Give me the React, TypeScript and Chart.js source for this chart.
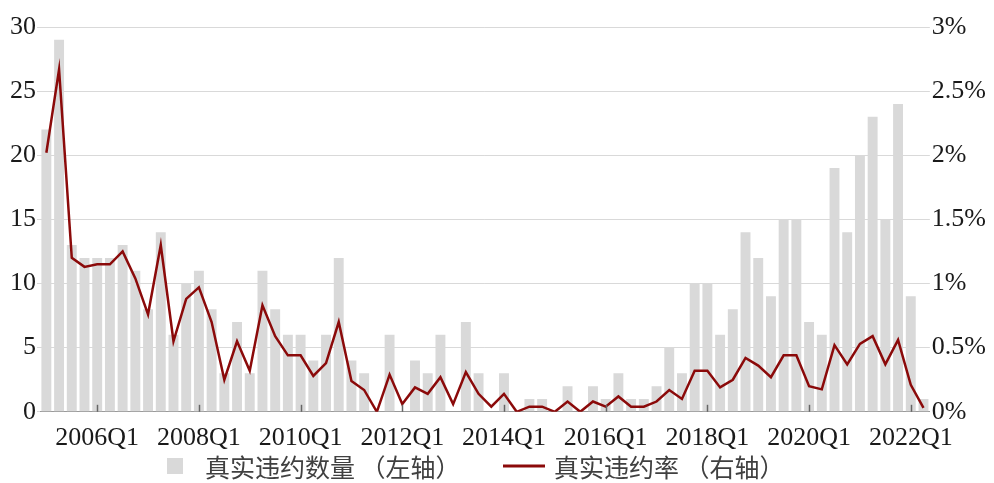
import React, { useEffect, useRef } from "react";
import { Chart, registerables } from "chart.js";

Chart.register(...registerables);

// Quarterly categories 2005Q1 .. 2022Q2
const years = [2005, 2006, 2007, 2008, 2009, 2010, 2011, 2012, 2013, 2014, 2015, 2016, 2017, 2018, 2019, 2020, 2021, 2022];
const quarters: string[] = [];
years.forEach((y) => {
  ["Q1", "Q2", "Q3", "Q4"].forEach((q) => {
    if (y === 2022 && (q === "Q3" || q === "Q4")) return;
    quarters.push(`${y}${q}`);
  });
});

const labeledTicks = ["2006Q1", "2008Q1", "2010Q1", "2012Q1", "2014Q1", "2016Q1", "2018Q1", "2020Q1", "2022Q1"];

const seriesNames = ["真实违约数量 （左轴）", "真实违约率 （右轴）"];

// 真实违约数量 (left axis)
const defaultCount = [
  22, 29, 13, 12, 12, 12, 13, 11, 8, 14,
  6, 10, 11, 8, 3, 7, 3, 11, 8, 6,
  6, 4, 6, 12, 4, 3, 0, 6, 0, 4,
  3, 6, 0, 7, 3, 0, 3, 0, 1, 1,
  0, 2, 0, 2, 1, 3, 1, 1, 2, 5,
  3, 10, 10, 6, 8, 14, 12, 9, 15, 15,
  7, 6, 19, 14, 20, 23, 15, 24, 9, 1,
];

// 真实违约率 % (right axis)
const defaultRate = [
  2.02, 2.67, 1.2, 1.13, 1.15, 1.15, 1.25, 1.04, 0.76, 1.3,
  0.55, 0.88, 0.97, 0.7, 0.25, 0.55, 0.32, 0.83, 0.59, 0.44,
  0.44, 0.28, 0.38, 0.7, 0.24, 0.17, 0.0, 0.29, 0.06, 0.19,
  0.14, 0.27, 0.06, 0.31, 0.14, 0.04, 0.14, 0.0, 0.04, 0.04,
  0.0, 0.08, 0.0, 0.08, 0.04, 0.12, 0.04, 0.04, 0.08, 0.17,
  0.1, 0.32, 0.32, 0.19, 0.25, 0.42, 0.36, 0.27, 0.44, 0.44,
  0.2, 0.175, 0.52, 0.37, 0.53, 0.59, 0.37, 0.56, 0.21, 0.03,
];

const leftTicks = [0, 5, 10, 15, 20, 25, 30];
const rightTicks = [0, 0.5, 1, 1.5, 2, 2.5, 3];

const BAR_COLOR = "#d9d9d9";
const LINE_COLOR = "#8b0a0a";
const GRID_COLOR = "#d9d9d9";
const SERIF = "'Liberation Serif', 'Times New Roman', serif";
const CJK = "'Noto Sans CJK SC', 'Noto Sans', sans-serif";

export default function App() {
  const canvasRef = useRef<HTMLCanvasElement | null>(null);

  useEffect(() => {
    if (!canvasRef.current) return;

    const innerTicks = {
      id: "innerTicks",
      afterDatasetsDraw(chart: any) {
        const xs = chart.scales.x;
        const ctx = chart.ctx;
        const bottom = chart.chartArea.bottom;
        ctx.save();
        ctx.strokeStyle = "#666666";
        ctx.lineWidth = 1.5;
        labeledTicks.forEach((lab) => {
          const idx = quarters.indexOf(lab);
          if (idx < 0) return;
          const px = Math.round(xs.getPixelForValue(idx)) + 0.5;
          ctx.beginPath();
          ctx.moveTo(px, bottom);
          ctx.lineTo(px, bottom - 7);
          ctx.stroke();
        });
        ctx.restore();
      },
    };

    const bottomLegend = {
      id: "bottomLegend",
      afterDraw(chart: any) {
        const ctx = chart.ctx;
        const cx = chart.width / 2;
        const cy = chart.height - 17;
        ctx.save();
        // bar swatch
        ctx.fillStyle = BAR_COLOR;
        ctx.fillRect(cx - 330, cy - 8, 16, 16);
        // line swatch
        ctx.fillStyle = LINE_COLOR;
        ctx.fillRect(cx + 6, cy - 1.5, 42, 3);
        ctx.font = `25px ${CJK}`;
        ctx.fillStyle = "#404040";
        ctx.textBaseline = "middle";
        ctx.textAlign = "left";
        ctx.fillText(seriesNames[0], cx - 292, cy + 1);
        ctx.fillText(seriesNames[1], cx + 57, cy + 1);
        ctx.restore();
      },
    };

    const chart = new Chart(canvasRef.current, {
      type: "bar",
      data: {
        labels: quarters,
        datasets: [
          {
            type: "bar",
            label: seriesNames[0],
            data: defaultCount,
            backgroundColor: BAR_COLOR,
            borderWidth: 0,
            barPercentage: 0.78,
            categoryPercentage: 1,
            yAxisID: "y",
            order: 2,
          },
          {
            type: "line",
            label: seriesNames[1],
            data: defaultRate,
            borderColor: LINE_COLOR,
            backgroundColor: LINE_COLOR,
            borderWidth: 2.5,
            pointRadius: 0,
            tension: 0,
            yAxisID: "y1",
            order: 1,
          },
        ] as any,
      },
      options: {
        animation: false,
        responsive: true,
        maintainAspectRatio: false,
        layout: { padding: { left: 9, right: 6, top: 27, bottom: 18 } },
        plugins: {
          tooltip: { enabled: false },
          legend: { display: false },
        },
        scales: {
          x: {
            offset: true,
            grid: { display: false, drawTicks: false },
            border: { display: true, color: "#9a9a9a", width: 1 },
            ticks: {
              autoSkip: false,
              maxRotation: 0,
              minRotation: 0,
              padding: 11,
              color: "#1a1a1a",
              font: { family: SERIF, size: 26 },
              callback: (_v: any, i: number) => (labeledTicks.includes(quarters[i]) ? quarters[i] : ""),
            },
          },
          y: {
            position: "left",
            min: 0,
            max: 30,
            afterBuildTicks: (s: any) => {
              s.ticks = leftTicks.map((v) => ({ value: v }));
            },
            grid: { color: GRID_COLOR, lineWidth: 1, drawTicks: true, tickLength: 3 },
            border: { display: false },
            ticks: {
              padding: 1,
              color: "#1a1a1a",
              font: { family: SERIF, size: 26 },
            },
          },
          y1: {
            position: "right",
            min: 0,
            max: 3,
            afterBuildTicks: (s: any) => {
              s.ticks = rightTicks.map((v) => ({ value: v }));
            },
            grid: { display: false, drawOnChartArea: false, drawTicks: false },
            border: { display: false },
            ticks: {
              padding: 2,
              color: "#1a1a1a",
              font: { family: SERIF, size: 26 },
              callback: (v: any) => `${v}%`,
            },
          },
        },
      } as any,
      plugins: [innerTicks, bottomLegend],
    });

    return () => chart.destroy();
  }, []);

  return (
    <div style={{ position: "absolute", left: 0, top: 0, width: 994, height: 483, background: "#fff" }}>
      <canvas ref={canvasRef} />
    </div>
  );
}
